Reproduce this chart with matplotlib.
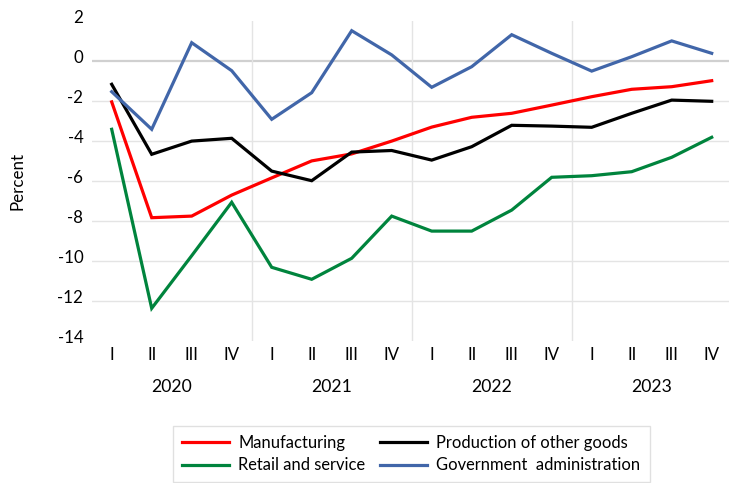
import matplotlib
matplotlib.use("Agg")
import matplotlib.pyplot as plt
from matplotlib.lines import Line2D
from matplotlib.transforms import blended_transform_factory, ScaledTranslation

plt.rcParams['font.family'] = ['Lato', 'DejaVu Sans']

years = ["2020", "2021", "2022", "2023"]
quarters = ["I", "II", "III", "IV"]

manufacturing = [-2.03, -7.82, -7.74, -6.69, -5.83, -4.98, -4.63, -3.99,
                 -3.29, -2.80, -2.60, -2.19, -1.77, -1.40, -1.27, -0.97]
other_goods = [-1.15, -4.65, -3.99, -3.85, -5.49, -5.97, -4.54, -4.46,
               -4.94, -4.27, -3.20, -3.24, -3.30, -2.60, -1.94, -2.00]
retail = [-3.40, -12.35, -9.72, -7.05, -10.30, -10.90, -9.85, -7.74,
          -8.49, -8.49, -7.44, -5.80, -5.72, -5.52, -4.80, -3.80]
government = [-1.52, -3.40, 0.93, -0.47, -2.90, -1.57, 1.53, 0.32,
              -1.30, -0.27, 1.33, 0.40, -0.49, 0.23, 1.02, 0.40]

series = [
    ("Manufacturing", manufacturing, "#FF0000"),
    ("Production of other goods", other_goods, "#000000"),
    ("Retail and service", retail, "#00843D"),
    ("Government  administration", government, "#4166A9"),
]
yticks = [2, 0, -2, -4, -6, -8, -10, -12, -14]

W, H = 729, 483
fig = plt.figure(figsize=(W / 100, H / 100), dpi=100)
left_px, right_px, top_px, bot_px = 91.7, 731.7, 21.3, 341.3
ax = fig.add_axes([left_px / W, 1 - bot_px / H, (right_px - left_px) / W, (bot_px - top_px) / H])

n = len(manufacturing)
x = list(range(n))

for v in yticks[1:-1]:
    if v == 0:
        ax.axhline(v, color="#D0D0D0", lw=1.6, zorder=1)
    else:
        ax.axhline(v, color="#E4E4E4", lw=1.0, zorder=1)
for k in range(1, len(years)):
    ax.axvline(4 * k - 0.5, color="#E4E4E4", lw=1.0, zorder=1)

for name, vals, col in series:
    ax.plot(x, vals, color=col, lw=2.3, zorder=3, solid_joinstyle='miter')

ax.set_xlim(-0.5, n - 0.5)
ax.set_ylim(min(yticks), max(yticks))
ax.set_yticks(yticks)
ax.set_yticklabels([str(v) for v in yticks], fontsize=12.2)
ax.set_xticks(x)
ax.set_xticklabels(quarters * len(years), fontsize=12.2)
ax.tick_params(axis='both', length=0, colors="#000000")
ax.tick_params(axis='y', pad=6)
ax.tick_params(axis='x', pad=4)
for s in ax.spines.values():
    s.set_visible(False)
shift = ScaledTranslation(0, 4.5 / 100, fig.dpi_scale_trans)
for lab in ax.get_yticklabels():
    lab.set_transform(lab.get_transform() + shift)

trans = blended_transform_factory(ax.transData, fig.transFigure)
for i, yr in enumerate(years):
    ax.text(4 * i + 1.5, 1 - 387 / H, yr, transform=trans, ha='center', va='center', fontsize=12.7)

fig.text(17 / W, 1 - 181 / H, "Percent", rotation=90, ha='center', va='center', fontsize=12.2)

handles = [Line2D([], [], color=c, lw=2.3) for _, _, c in series]
labels = [s[0] for s in series]
order = [0, 2, 1, 3]
leg = fig.legend([handles[i] for i in order], [labels[i] for i in order],
                 loc='upper left', bbox_to_anchor=(173 / W, 1 - 426 / H),
                 ncol=2, fontsize=11.9, frameon=True, fancybox=False,
                 edgecolor="#D9D9D9", handlelength=2.85, handletextpad=0.55,
                 columnspacing=0.9, labelspacing=0.38, borderpad=0.55,
                 borderaxespad=0)
leg.get_frame().set_linewidth(1.0)

fig.savefig("out.png", dpi=100)
